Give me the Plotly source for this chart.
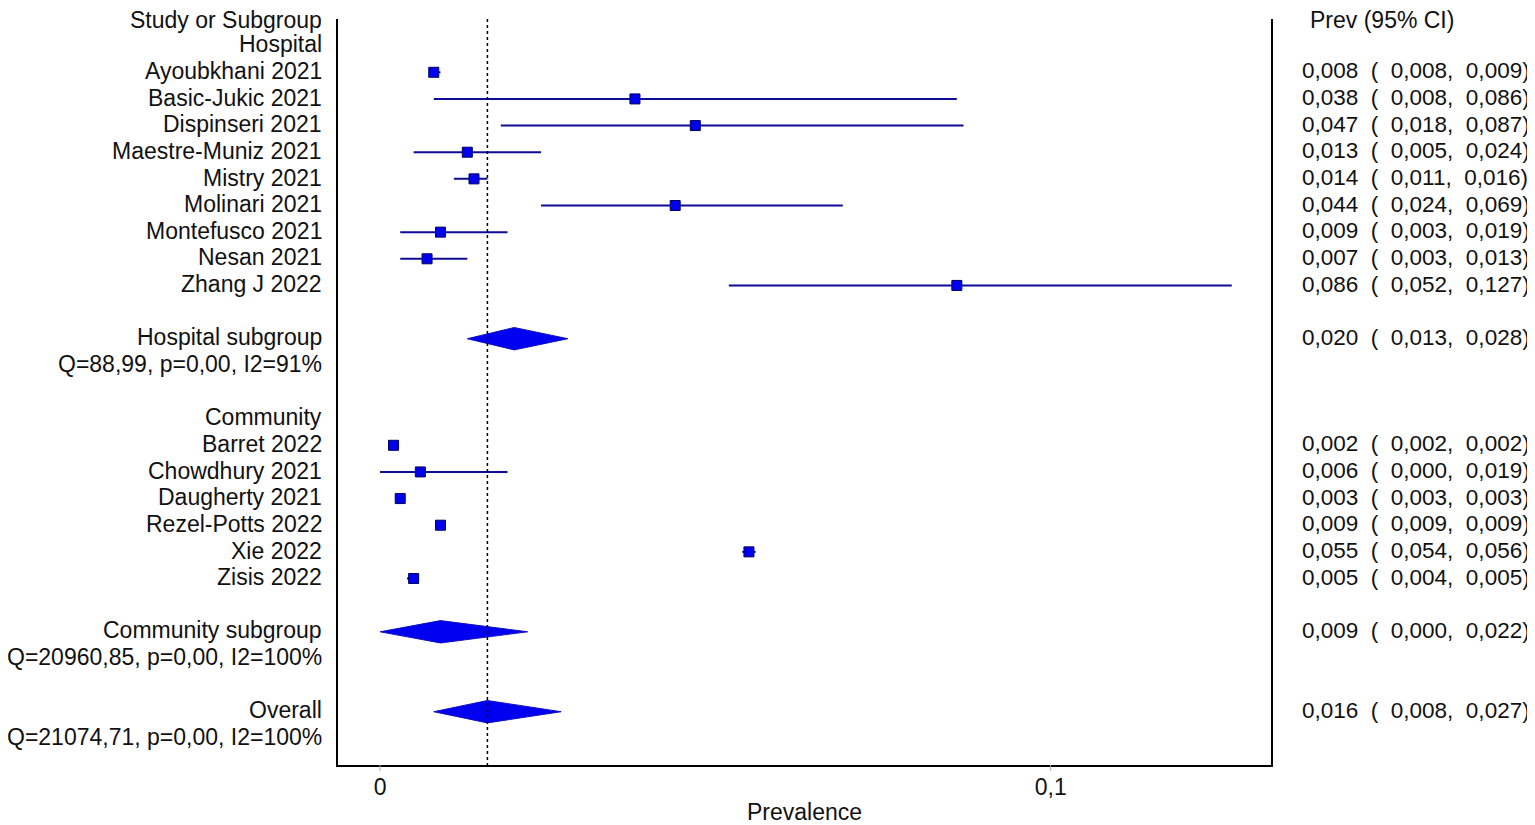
import plotly.graph_objects as go

# ---- data ----
hosp_studies = ["Ayoubkhani 2021", "Basic-Jukic 2021", "Dispinseri 2021", "Maestre-Muniz 2021",
                "Mistry 2021", "Molinari 2021", "Montefusco 2021", "Nesan 2021", "Zhang J 2022"]
hosp_prev = [0.008, 0.038, 0.047, 0.013, 0.014, 0.044, 0.009, 0.007, 0.086]
hosp_lo = [0.008, 0.008, 0.018, 0.005, 0.011, 0.024, 0.003, 0.003, 0.052]
hosp_hi = [0.009, 0.086, 0.087, 0.024, 0.016, 0.069, 0.019, 0.013, 0.127]

comm_studies = ["Barret 2022", "Chowdhury 2021", "Daugherty 2021", "Rezel-Potts 2022", "Xie 2022", "Zisis 2022"]
comm_prev = [0.002, 0.006, 0.003, 0.009, 0.055, 0.005]
comm_lo = [0.002, 0.000, 0.003, 0.009, 0.054, 0.004]
comm_hi = [0.002, 0.019, 0.003, 0.009, 0.056, 0.005]

pooled_labels = ["Hospital subgroup", "Community subgroup", "Overall"]
pooled_stats = ["Q=88,99, p=0,00, I2=91%", "Q=20960,85, p=0,00, I2=100%", "Q=21074,71, p=0,00, I2=100%"]
pooled_prev = [0.020, 0.009, 0.016]
pooled_lo = [0.013, 0.000, 0.008]
pooled_hi = [0.028, 0.022, 0.027]

group_labels = ["Hospital", "Community"]
overall_line = 0.016
x_ticks = [0, 0.1]
x_tick_labels = ["0", "0,1"]

# ---- row layout ----
hosp_rows = list(range(2, 2 + len(hosp_studies)))          # 2..10
pooled_rows = [12, 23, 26]
group_rows = [1, 15]
comm_rows = list(range(16, 16 + len(comm_studies)))         # 16..21
N_ROWS = 28

NAVY = "#0c0c96"
BLUE = "#0000f0"
FONT = "Liberation Sans, Arial, sans-serif"
FS = 23
FS_R = 22.5
TXT = "#111111"

def fmt(v):
    return ("%.3f" % v).replace(".", ",")

def ci_text(p, l, h):
    sp = "\u00a0\u00a0"
    return f"{fmt(p)}{sp}({sp}{fmt(l)},{sp}{fmt(h)})"

fig = go.Figure()

all_prev = hosp_prev + comm_prev
all_lo = hosp_lo + comm_lo
all_hi = hosp_hi + comm_hi
all_rows = hosp_rows + comm_rows
fig.add_trace(go.Scatter(
    x=all_prev, y=all_rows, mode="markers",
    marker=dict(symbol="square", size=10, color=BLUE, line=dict(color="#000060", width=1)),
    error_x=dict(type="data", symmetric=False,
                 array=[h - p for p, h in zip(all_prev, all_hi)],
                 arrayminus=[p - l for p, l in zip(all_prev, all_lo)],
                 color=NAVY, thickness=2, width=0),
    showlegend=False, hoverinfo="skip"))

# diamonds
half_h = 0.42
for p, l, h, r in zip(pooled_prev, pooled_lo, pooled_hi, pooled_rows):
    fig.add_trace(go.Scatter(
        x=[l, p, h, p, l], y=[r, r - half_h, r, r + half_h, r],
        mode="lines", fill="toself", fillcolor=BLUE,
        line=dict(color="#1010c0", width=1), showlegend=False, hoverinfo="skip"))

# overall dotted line
fig.add_shape(type="line", x0=overall_line, x1=overall_line, y0=0, y1=N_ROWS,
              xref="x", yref="y", line=dict(color="black", width=1.5, dash="dot"))

# small grey tick marks below the axis
for tv in x_ticks:
    fig.add_shape(type="line", x0=tv, x1=tv, y0=0, y1=-0.008, xref="x", yref="paper",
                  line=dict(color="#aaaaaa", width=1))

ann = []
LX = -0.0145
RX = 1.0315

def row_to_paper(row):
    return 1 - (row - 0.05) / N_ROWS

def left(text, row):
    ann.append(dict(x=LX, y=row_to_paper(row), xref="paper", yref="paper", text=text, showarrow=False,
                    xanchor="right", yanchor="middle", font=dict(family=FONT, size=FS, color=TXT)))

def right(text, row, x=RX, size=FS_R):
    ann.append(dict(x=x, y=row_to_paper(row), xref="paper", yref="paper", text=text, showarrow=False,
                    xanchor="left", yanchor="middle", font=dict(family=FONT, size=size, color=TXT)))

left("Study or Subgroup", 0.08)
right("Prev (95% CI)", 0.08, x=1.0395, size=FS)
for g, r in zip(group_labels, group_rows):
    left(g, r)
for s, p, l, h, r in zip(hosp_studies + comm_studies, all_prev, all_lo, all_hi, all_rows):
    left(s, r)
    right(ci_text(p, l, h), r)
for lab, st, p, l, h, r in zip(pooled_labels, pooled_stats, pooled_prev, pooled_lo, pooled_hi, pooled_rows):
    left(lab, r)
    left(st, r + 1)
    right(ci_text(p, l, h), r)

# page body adds an 8px margin, so the figure is sized to the visible area
fig.update_layout(
    width=1527, height=817,
    margin=dict(l=330, r=264, t=11, b=60, autoexpand=False),
    plot_bgcolor="white", paper_bgcolor="white",
    separators=", ",
    annotations=ann,
    font=dict(family=FONT, size=FS, color=TXT),
    xaxis=dict(range=[-0.00628, 0.13285], tickvals=x_ticks, ticktext=x_tick_labels,
               showgrid=False, zeroline=False, showline=True, linecolor="black", linewidth=2,
               ticks="",
               tickfont=dict(family=FONT, size=FS, color=TXT),
               title=dict(text="Prevalence", font=dict(family=FONT, size=FS, color=TXT), standoff=18)),
    yaxis=dict(range=[N_ROWS, 0], showgrid=False, zeroline=False, showticklabels=False,
               showline=True, mirror=True, linecolor="black", linewidth=2, ticks=""),
)
fig.write_html("out.html")
